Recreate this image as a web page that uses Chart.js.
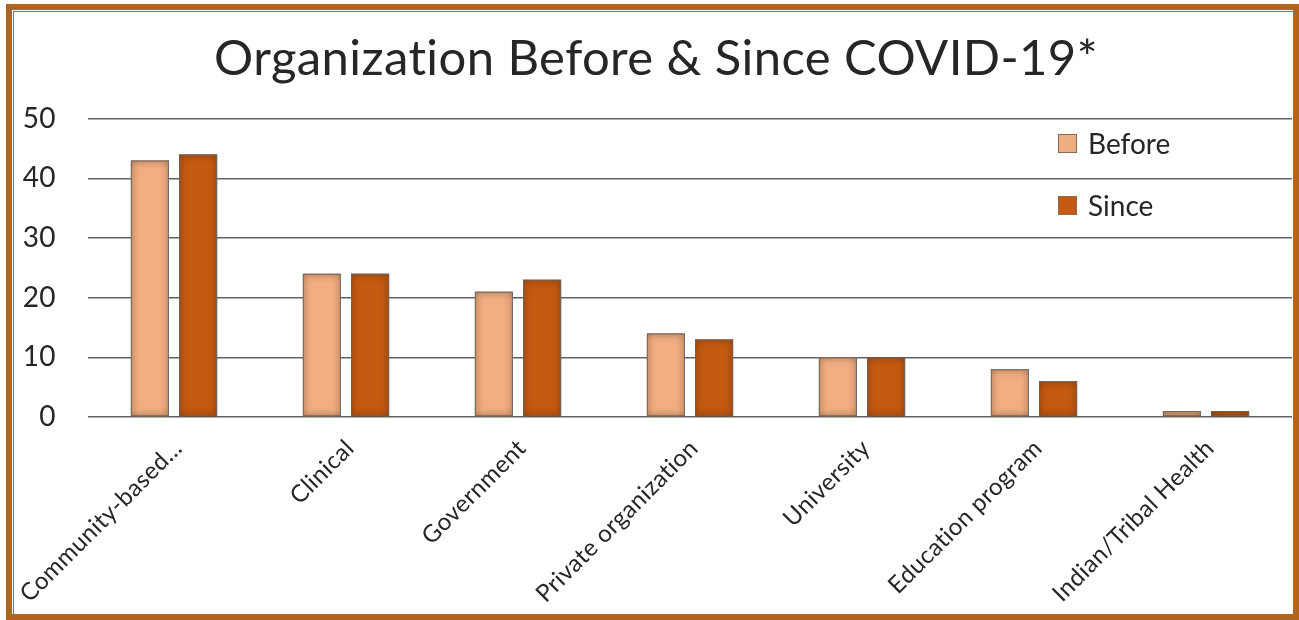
<!DOCTYPE html>
<html>
<head>
<meta charset="utf-8">
<script src="https://cdn.jsdelivr.net/npm/chart.js@4.4.0/dist/chart.umd.min.js"></script>
<style>
  html, body { margin: 0; padding: 0; background: #fff; }
  #wrap { position: relative; width: 1299px; height: 620px; overflow: hidden; background: #fff; }
  #c { position: absolute; left: 0; top: 0; }
  .frame { position: absolute; left: 6px; top: 4px; width: 1293px; height: 616px; box-sizing: border-box;
           border: 6px solid #B3651C; pointer-events: none; }
  .frame2 { position: absolute; left: 13px; top: 11px; width: 1281px; height: 605px; box-sizing: border-box;
            border: 1px solid #B3651C; pointer-events: none; }
  .legend { position: absolute; left: 1058px; font-family: Lato, "Open Sans", sans-serif; font-size: 28px; color: #262626; }
  .legend .item { position: absolute; left: 0; white-space: nowrap; display: flex; align-items: center; }
  .legend .sw { width: 19px; height: 19px; box-sizing: border-box; border: 1px solid #8a6a55; margin-right: 11px; }
</style>
</head>
<body>
<div id="wrap">
  <canvas id="c" width="1299" height="620"></canvas>
  <div class="legend">
    <div class="item" id="lg0" style="top:126px"><div class="sw" style="background:#F0AD80"></div><span>Before</span></div>
    <div class="item" id="lg1" style="top:188px"><div class="sw" style="background:#C55A11"></div><span>Since</span></div>
  </div>
  <div class="frame"></div>
  <div class="frame2"></div>
</div>
<script>
const categories = ["Community-based...", "Clinical", "Government", "Private organization", "University", "Education program", "Indian/Tribal Health"];
const beforeValues = [43, 24, 21, 14, 10, 8, 1];
const sinceValues = [44, 24, 23, 13, 10, 6, 1];
const seriesNames = ["Before", "Since"];
const yTicks = [0, 10, 20, 30, 40, 50];
const titleText = "Organization Before & Since COVID-19*";

const FONT = 'Lato, "Open Sans", sans-serif';

const spacing = {
  id: 'spacing',
  beforeDraw(chart) { chart.ctx.letterSpacing = '0.4px'; }
};

const innerShadow = {
  id: 'innerShadow',
  afterDatasetsDraw(chart) {
    const ctx = chart.ctx;
    chart.data.datasets.forEach((ds, i) => {
      const meta = chart.getDatasetMeta(i);
      meta.data.forEach(bar => {
        const p = bar.getProps(['x', 'y', 'base', 'width'], true);
        const l = p.x - p.width / 2, r = p.x + p.width / 2;
        const t = Math.min(p.y, p.base), b = Math.max(p.y, p.base);
        if (b - t < 0.5) return;
        ctx.save();
        ctx.beginPath();
        ctx.rect(l, t, r - l, b - t);
        ctx.clip();
        ctx.shadowColor = 'rgba(40,20,5,0.8)';
        ctx.shadowBlur = 8;
        ctx.lineWidth = 6;
        ctx.strokeStyle = 'rgba(40,20,5,0.6)';
        ctx.strokeRect(l - 3, t - 3, r - l + 6, b - t + 6);
        ctx.restore();
        ctx.save();
        ctx.strokeStyle = 'rgba(110,100,95,0.9)';
        ctx.lineWidth = 1;
        ctx.strokeRect(l + 0.5, t + 0.5, r - l - 1, b - t - 1);
        ctx.restore();
      });
    });
  }
};

new Chart(document.getElementById('c'), {
  type: 'bar',
  data: {
    labels: categories,
    datasets: [
      { label: seriesNames[0], data: beforeValues, backgroundColor: '#F2AE82', borderWidth: 0 },
      { label: seriesNames[1], data: sinceValues, backgroundColor: '#C55A11', borderWidth: 0 }
    ]
  },
  plugins: [spacing, innerShadow],
  options: {
    responsive: false,
    animation: false,
    devicePixelRatio: 1,
    layout: { padding: { left: 20, right: 7, top: 0, bottom: 0 } },
    datasets: { bar: { categoryPercentage: 0.56, barPercentage: 0.79 } },
    plugins: {
      legend: { display: false },
      tooltip: { enabled: false },
      title: {
        display: true,
        text: titleText,
        color: '#262626',
        font: { family: FONT, size: 49, weight: 'normal' },
        padding: { top: 30, bottom: 30 }
      }
    },
    scales: {
      x: {
        grid: { display: false, drawTicks: false },
        border: { display: false },
        ticks: {
          color: '#262626',
          font: { family: FONT, size: 24 },
          maxRotation: 45, minRotation: 45,
          padding: 17,
          labelOffset: 4,
          autoSkip: false
        },
        afterFit(scale) { scale.height = 203; }
      },
      y: {
        min: 0, max: 50,
        afterBuildTicks(scale) { scale.ticks = yTicks.map(v => ({ value: v })); },
        grid: { color: '#626262', lineWidth: 1.6, drawTicks: false },
        border: { display: false },
        ticks: {
          color: '#262626',
          font: { family: FONT, size: 28 },
          padding: 32
        },
        afterFit(scale) { scale.width = 68; }
      }
    }
  }
});
</script>
</body>
</html>
